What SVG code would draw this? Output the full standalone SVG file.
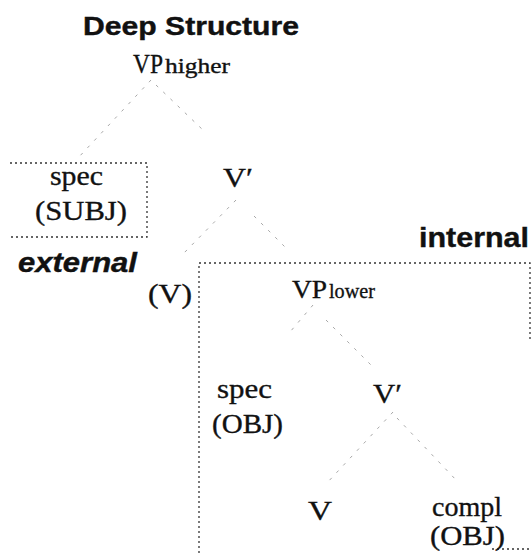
<svg xmlns="http://www.w3.org/2000/svg" width="532" height="553" viewBox="0 0 532 553">
<style>
.ser{font-family:"Liberation Serif","Times New Roman",serif;fill:#111;stroke:#111;stroke-width:0.35}
.sb{font-family:"Liberation Sans",Arial,sans-serif;font-weight:bold;fill:#111;stroke:#111;stroke-width:0.4}
.edge{stroke:#a8a8a8;stroke-width:1;stroke-dasharray:3 7;fill:none}
.box{stroke:#333;stroke-width:1.3;stroke-dasharray:2 3;fill:none}
</style>
<rect width="532" height="553" fill="#fff"/>
<text id="title" class="sb" x="83" y="35" font-size="25" textLength="216" lengthAdjust="spacingAndGlyphs">Deep Structure</text>
<g id="boxes">
  <g id="box-external"><path class="box" d="M10 163 H147 V237 H10"/></g>
  <g id="box-internal"><path class="box" d="M199 553 V263 H530 V340"/><path class="box" d="M492 549 H530"/></g>
</g>
<g id="connectors">
  <line class="edge" x1="151" y1="80" x2="78" y2="158"/>
  <line class="edge" x1="156" y1="85" x2="204" y2="131"/>
  <line class="edge" x1="236" y1="200" x2="183" y2="254"/>
  <line class="edge" x1="254" y1="216" x2="288" y2="250"/>
  <line class="edge" x1="313" y1="305" x2="290" y2="332"/>
  <line class="edge" x1="326" y1="320" x2="372" y2="366"/>
  <line class="edge" x1="393" y1="412" x2="326" y2="484"/>
  <line class="edge" x1="397" y1="418" x2="458" y2="482"/>
</g>
<g id="VPhigher">
  <text class="ser" x="133" y="73" font-size="27" textLength="30" lengthAdjust="spacingAndGlyphs">VP</text>
  <text class="ser" x="165" y="73" font-size="22" textLength="65" lengthAdjust="spacingAndGlyphs">higher</text>
</g>
<g id="specSUBJ">
  <text class="ser" x="50" y="185" font-size="28" textLength="53" lengthAdjust="spacingAndGlyphs">spec</text>
  <text class="ser" x="35" y="220" font-size="28" textLength="92" lengthAdjust="spacingAndGlyphs">(SUBJ)</text>
</g>
<g id="Vbar1"><text class="ser" x="223" y="187" font-size="28" textLength="30" lengthAdjust="spacingAndGlyphs">V′</text></g>
<g id="external"><text class="sb" x="18" y="272" font-size="27" font-style="italic" textLength="119" lengthAdjust="spacingAndGlyphs">external</text></g>
<g id="internal"><text class="sb" x="419" y="247" font-size="28" textLength="110" lengthAdjust="spacingAndGlyphs">internal</text></g>
<g id="Vparen"><text class="ser" x="148" y="303" font-size="28" textLength="44" lengthAdjust="spacingAndGlyphs">(V)</text></g>
<g id="VPlower">
  <text class="ser" x="292" y="298" font-size="26" textLength="35" lengthAdjust="spacingAndGlyphs">VP</text>
  <text class="ser" x="329" y="298" font-size="22" textLength="46" lengthAdjust="spacingAndGlyphs">lower</text>
</g>
<g id="specOBJ">
  <text class="ser" x="217" y="398" font-size="28" textLength="55" lengthAdjust="spacingAndGlyphs">spec</text>
  <text class="ser" x="212" y="433" font-size="28" textLength="71" lengthAdjust="spacingAndGlyphs">(OBJ)</text>
</g>
<g id="Vbar2"><text class="ser" x="373" y="403" font-size="28" textLength="29" lengthAdjust="spacingAndGlyphs">V′</text></g>
<g id="V"><text class="ser" x="308" y="520" font-size="28" textLength="24" lengthAdjust="spacingAndGlyphs">V</text></g>
<g id="complOBJ">
  <text class="ser" x="432" y="516" font-size="28" textLength="70" lengthAdjust="spacingAndGlyphs">compl</text>
  <text class="ser" x="430" y="545" font-size="28" textLength="75" lengthAdjust="spacingAndGlyphs">(OBJ)</text>
</g>
</svg>
